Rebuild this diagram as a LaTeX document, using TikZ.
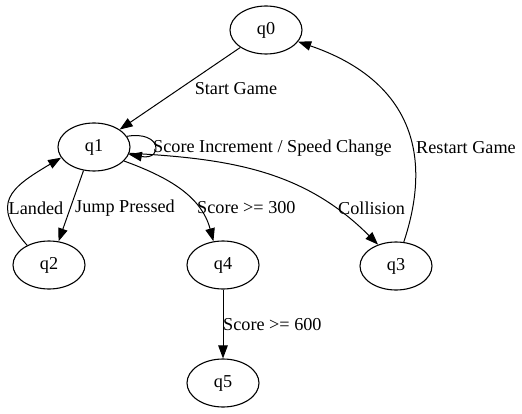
\documentclass[tikz,border=0pt]{standalone}
\usepackage{fontspec}
\setmainfont{Liberation Serif}
\usetikzlibrary{arrows.meta,shapes.geometric}
\begin{document}
\begin{tikzpicture}[x=1pt,y=1pt,
  state/.style={ellipse,draw,line width=1.1pt,minimum width=72pt,minimum height=48pt,inner sep=0pt},
  edge/.style={line width=1.0pt,-{Triangle[length=13pt,width=9.5pt]}},
  lbl/.style={inner sep=0pt},
  font=\fontsize{18.2}{22}\selectfont]
\useasboundingbox (0,0) rectangle (522,413);
\node[state] (q0) at (266,383) {q0};
\node[state] (q1) at (94,266) {q1};
\node[state] (q2) at (49,148) {q2};
\node[state] (q4) at (223,148) {q4};
\node[state] (q3) at (396,147) {q3};
\node[state] (q5) at (223,30) {q5};
\draw[edge] (q0) -- (q1);
\draw[edge] (q1.18) .. controls +(35,6) and +(35,-6) .. (q1.-12);
\draw[edge] (q1.246) -- (q2.68);
\draw[edge] (q2.138) .. controls (-10,210) and (10,225) .. (q1.198);
\draw[edge] (q1.335) to[out=-20,in=105] (q4.112);
\draw[edge] (q1.-10) to[out=-3,in=135] (q3.130);
\draw[edge] (q3.72) .. controls (440,280) and (390,340) .. (q0.-20);
\draw[edge] (q4) -- (q5);
\node[lbl] (l1) at (236,324) {Start Game};
\node[lbl,anchor=west] (l2) at (153,265) {Score Increment / Speed Change};
\node[lbl,anchor=west] (l3) at (416,265) {Restart Game};
\node[lbl] (l4) at (36,205) {Landed};
\node[lbl,anchor=west] (l5) at (75,205) {Jump Pressed};
\node[lbl,anchor=west] (l6) at (197,205) {Score >= 300};
\node[lbl,anchor=west] (l7) at (338,205) {Collision};
\node[lbl,anchor=west] (l8) at (223,88) {Score >= 600};
\end{tikzpicture}
\end{document}
